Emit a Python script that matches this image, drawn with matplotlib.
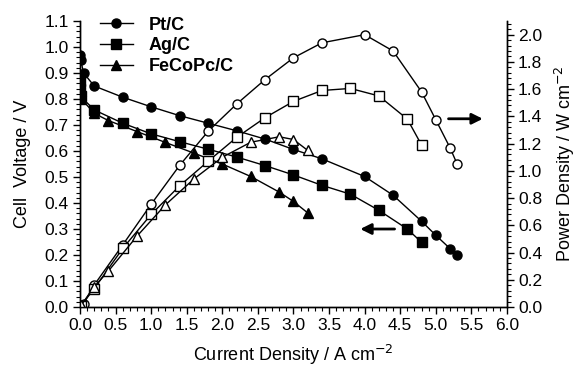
import numpy as np
import matplotlib.pyplot as plt
from matplotlib.ticker import MultipleLocator

plt.rcParams['font.family'] = ['Liberation Sans', 'DejaVu Sans']

# Pt/C: polarization (V) and power density (W cm-2)
pt_i = [0.0, 0.01, 0.05, 0.2, 0.6, 1.0, 1.4, 1.8, 2.2, 2.6, 3.0, 3.4, 4.0, 4.4, 4.8, 5.0, 5.2, 5.3]
pt_v = [0.97, 0.95, 0.90, 0.85, 0.807, 0.77, 0.736, 0.707, 0.678, 0.646, 0.606, 0.57, 0.502, 0.43, 0.33, 0.276, 0.225, 0.199]
pt_p = [0.0, 0.01, 0.024, 0.162, 0.456, 0.755, 1.04, 1.29, 1.49, 1.67, 1.83, 1.94, 2.0, 1.88, 1.58, 1.375, 1.17, 1.05]

# Ag/C
ag_i = [0.0, 0.005, 0.01, 0.2, 0.6, 1.0, 1.4, 1.8, 2.2, 2.6, 3.0, 3.4, 3.8, 4.2, 4.6, 4.8]
ag_v = [0.87, 0.84, 0.81, 0.758, 0.707, 0.666, 0.636, 0.607, 0.577, 0.544, 0.508, 0.468, 0.434, 0.372, 0.30, 0.249]
ag_p = [0.0, 0.005, 0.008, 0.135, 0.43, 0.68, 0.89, 1.07, 1.245, 1.39, 1.51, 1.59, 1.605, 1.55, 1.38, 1.19]

# FeCoPc/C
fe_i = [0.0, 0.01, 0.02, 0.2, 0.4, 0.8, 1.2, 1.6, 2.0, 2.4, 2.8, 3.0, 3.2]
fe_v = [0.86, 0.83, 0.80, 0.745, 0.717, 0.675, 0.633, 0.592, 0.55, 0.502, 0.442, 0.406, 0.362]
fe_p = [0.0, 0.008, 0.016, 0.15, 0.265, 0.52, 0.75, 0.94, 1.10, 1.21, 1.25, 1.23, 1.15]

fig = plt.figure(figsize=(5.82, 3.69), dpi=100)
ax = fig.add_axes([0.1375, 0.168, 0.7335, 0.775])
ax2 = ax.twinx()

lw = 1.0
ms = 6.5
l1, = ax.plot(pt_i, pt_v, 'k-o', lw=lw, ms=ms, label='Pt/C')
l2, = ax.plot(ag_i, ag_v, 'k-s', lw=lw, ms=ms, label='Ag/C')
l3, = ax.plot(fe_i, fe_v, 'k-^', lw=lw, ms=ms, label='FeCoPc/C')

ax2.plot(pt_i, pt_p, 'k-o', lw=lw, ms=ms, mfc='white')
ax2.plot(ag_i, ag_p, 'k-s', lw=lw, ms=ms, mfc='white')
ax2.plot(fe_i, fe_p, 'k-^', lw=lw, ms=ms, mfc='white')

ax.set_xlim(0, 6.0)
ax.set_ylim(0, 1.1)
ax2.set_ylim(0, 2.1)

ax.xaxis.set_major_locator(MultipleLocator(0.5))
ax.xaxis.set_minor_locator(MultipleLocator(0.1))
ax.yaxis.set_major_locator(MultipleLocator(0.1))
ax.yaxis.set_minor_locator(MultipleLocator(0.02))
ax2.yaxis.set_major_locator(MultipleLocator(0.2))
ax2.yaxis.set_minor_locator(MultipleLocator(0.04))
ax.xaxis.set_major_formatter(plt.FormatStrFormatter('%.1f'))
ax.yaxis.set_major_formatter(plt.FormatStrFormatter('%.1f'))
ax2.yaxis.set_major_formatter(plt.FormatStrFormatter('%.1f'))

for a in (ax, ax2):
    a.spines['top'].set_visible(False)
    a.tick_params(which='major', direction='out', length=5, width=1, labelsize=12.5, pad=3)
    a.tick_params(which='minor', direction='out', length=3, width=0.8)
    for s in a.spines.values():
        s.set_linewidth(1.0)

ax.set_xlabel('Current Density / A cm$^{-2}$', fontsize=13, labelpad=7)
ax.set_ylabel('Cell  Voltage / V', fontsize=13, labelpad=10)
ax2.set_ylabel('Power Density / W cm$^{-2}$', fontsize=13, labelpad=8)

# direction arrows
ax.annotate('', xy=(3.9, 0.30), xytext=(4.46, 0.30),
            arrowprops=dict(arrowstyle='-|>', color='k', lw=2, mutation_scale=16))
ax.annotate('', xy=(5.7, 0.724), xytext=(5.14, 0.724),
            arrowprops=dict(arrowstyle='-|>', color='k', lw=2, mutation_scale=16))

leg = ax.legend(handles=[l1, l2, l3], loc='upper left', bbox_to_anchor=(0.03, 1.04),
                frameon=False, prop={'weight': 'bold', 'size': 13},
                handlelength=1.8, handletextpad=0.9, labelspacing=0.2, borderaxespad=0)

fig.savefig('out.png', dpi=100)
